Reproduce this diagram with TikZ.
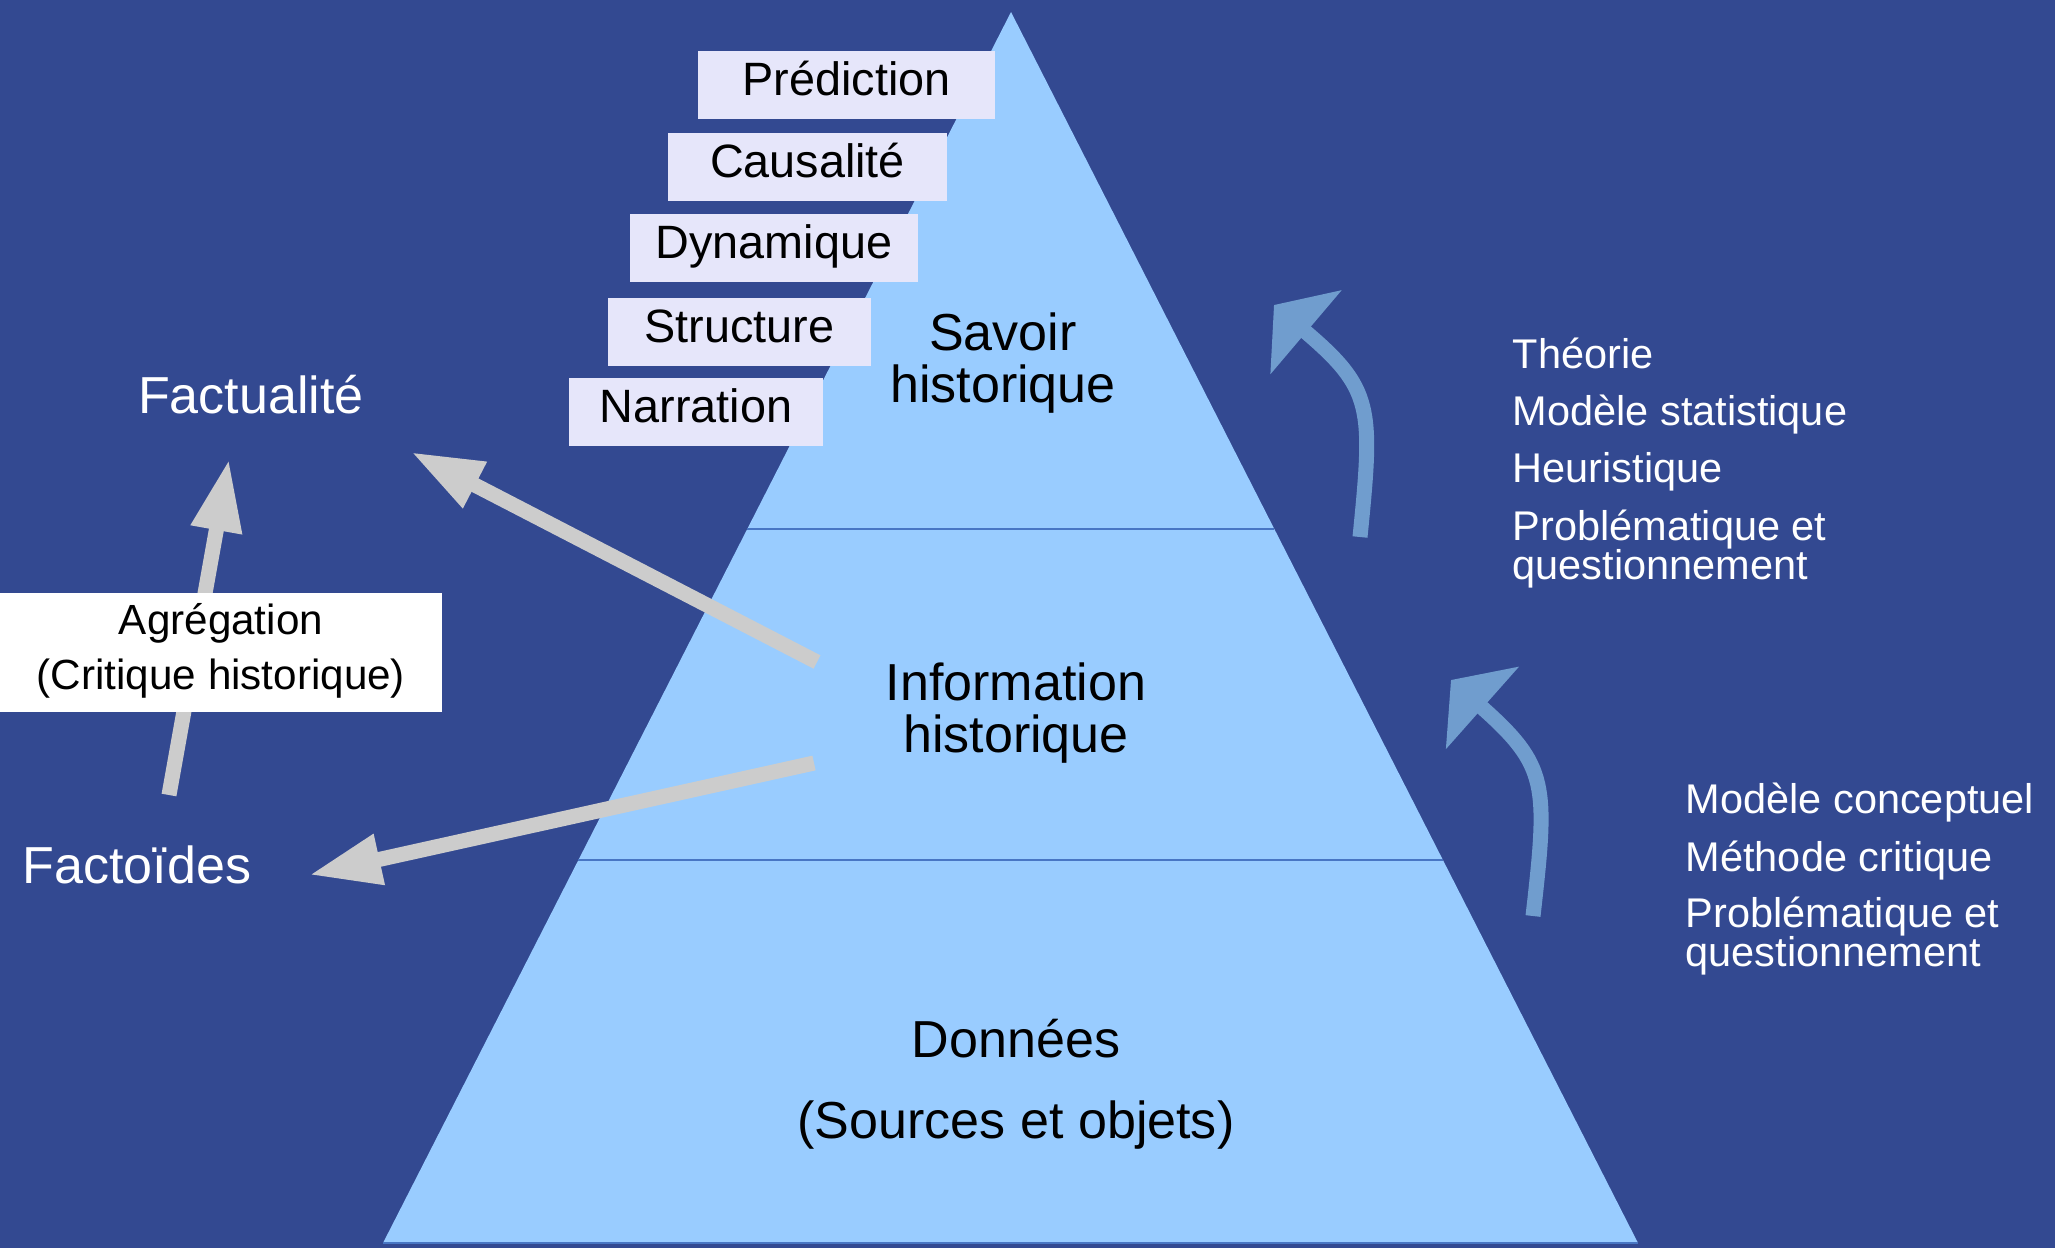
\documentclass[tikz,border=0pt]{standalone}
\usepackage{fontspec}
\setmainfont{Liberation Sans}
\usetikzlibrary{arrows.meta,calc}
\definecolor{bgblue}{RGB}{51,73,145}
\definecolor{pyrblue}{RGB}{153,204,255}
\definecolor{sepblue}{RGB}{72,118,196}
\definecolor{boxlav}{RGB}{230,230,250}
\definecolor{arrgray}{RGB}{204,204,204}
\definecolor{arrblue}{RGB}{112,157,206}

\begin{document}
\begin{tikzpicture}[x=0.01cm,y=-0.01cm,
  stepbox/.style={fill=boxlav, inner sep=0pt, text height=12.52pt, text depth=6.83pt,
    font=\fontsize{13.3}{16}\selectfont, anchor=base},
  level/.style={inner sep=0pt, anchor=base, font=\fontsize{14.8}{16}\selectfont},
  side/.style={inner sep=0pt, anchor=base, text=white, font=\fontsize{14.8}{16}\selectfont},
  method/.style={inner sep=0pt, anchor=base west, text=white, font=\fontsize{11.8}{13}\selectfont},
  note/.style={inner sep=0pt, anchor=base, font=\fontsize{12}{14}\selectfont},
  sep/.style={draw=sepblue, line width=0.025cm},
  grayarrow/.style={draw=arrgray, line width=0.15cm, -{Triangle[length=0.72cm,width=0.48cm]}},
  bluearrow/.style={draw=arrblue, line width=0.15cm, -{Triangle[length=0.42cm,width=1.08cm]}}
]
% background
\fill[bgblue] (0,0) rectangle (2055,1248);
\useasboundingbox (0,0) rectangle (2055,1248);

% pyramid with its three levels
\coordinate (apex) at (1011,12);
\coordinate (bl) at (383,1243);
\coordinate (br) at (1638,1243);
\fill[pyrblue] (apex) -- (bl) -- (br) -- cycle;
\draw[sep] ($(apex)!0.42!(bl)$) -- ($(apex)!0.42!(br)$);
\draw[sep] ($(apex)!0.6889!(bl)$) -- ($(apex)!0.6889!(br)$);
\draw[sep] (bl) -- (br);

\node[level] (savoir1) at (1003,350) {Savoir};
\node[level] (savoir2) at (1003,402) {historique};
\node[level] (info1) at (1016,700) {Information};
\node[level] (info2) at (1016,752) {historique};
\node[level] (donnees1) at (1016,1057) {Données};
\node[level] (donnees2) at (1016,1138) {(Sources et objets)};

% stacked forms of knowledge
\node[stepbox, minimum width=2.97cm] (pred) at (846.5,95) {Prédiction};
\node[stepbox, minimum width=2.79cm] (caus) at (807.5,177) {Causalité};
\node[stepbox, minimum width=2.88cm] (dyn) at (774,258) {Dynamique};
\node[stepbox, minimum width=2.63cm] (struct) at (739.5,342) {Structure};
\node[stepbox, minimum width=2.54cm] (narr) at (696,422) {Narration};

% left side
\node[side] (factualite) at (251,413) {Factualité};
\node[side, anchor=base west] (factoides) at (22,883) {Factoïdes};

\coordinate (infoA) at (817,662);
\coordinate (factA) at (411,452);
\coordinate (infoB) at (814,763);
\coordinate (factoB) at (309,875);
\coordinate (factoC) at (169,795);
\coordinate (factC) at (229,459);
\draw[grayarrow] (infoA) -- (factA);
\draw[grayarrow] (infoB) -- (factoB);
\draw[grayarrow] (factoC) -- (factC);

\node[fill=white, inner sep=0pt, minimum width=4.42cm, minimum height=1.19cm] (agreg) at (221,652.5) {};
\node[note] (agreg1) at (221,634) {Agrégation};
\node[note] (agreg2) at (221,689) {(Critique historique)};

% right side
\coordinate (up1tail) at (1360,537);
\coordinate (up1tip) at (1274,305);
\draw[bluearrow] (up1tail) .. controls (1373,407) and (1373,389) .. (up1tip);
\coordinate (up2tail) at (1533,916);
\coordinate (up2tip) at (1451,680);
\draw[bluearrow] (up2tail) .. controls (1548,784) and (1548,766) .. (up2tip);

\node[method] (m1) at (1512,368) {Théorie};
\node[method] (m2) at (1512,425) {Modèle statistique};
\node[method] (m3) at (1512,482) {Heuristique};
\node[method] (m4) at (1512,540) {Problématique et};
\node[method] (m5) at (1512,579) {questionnement};

\node[method] (n1) at (1685,813) {Modèle conceptuel};
\node[method] (n2) at (1685,871) {Méthode critique};
\node[method] (n3) at (1685,927) {Problématique et};
\node[method] (n4) at (1685,966) {questionnement};
\end{tikzpicture}
\end{document}
